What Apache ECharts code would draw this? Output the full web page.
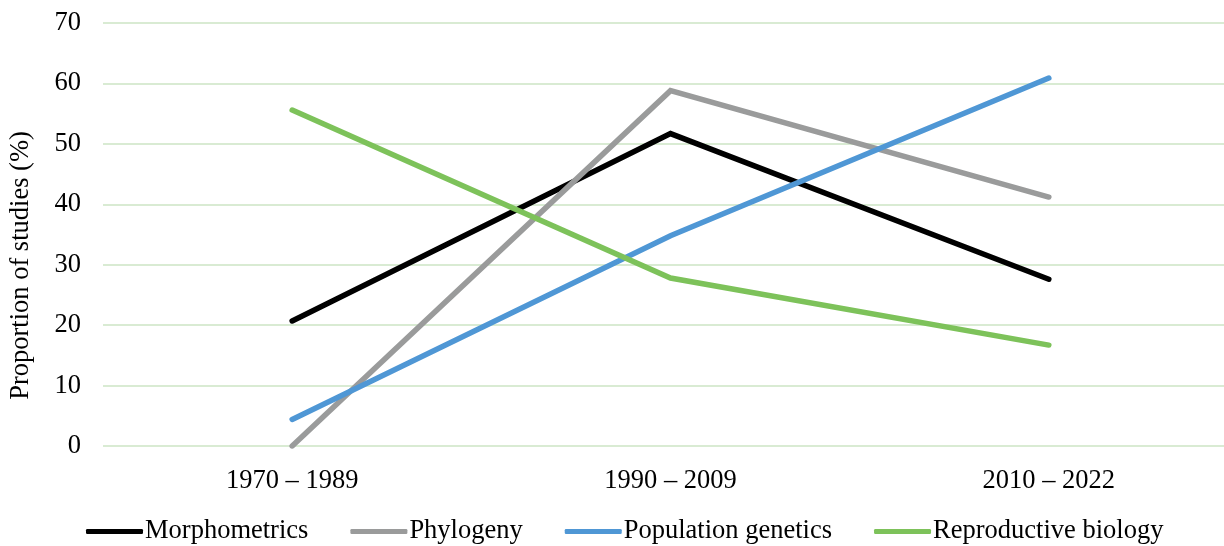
<!DOCTYPE html>
<html>
<head>
<meta charset="utf-8">
<script src="https://cdn.jsdelivr.net/npm/echarts@6/dist/echarts.min.js"></script>
<style>
html,body{margin:0;padding:0;background:#fff;overflow:hidden;width:1224px;height:546px;}
#chart{width:1238px;height:546px;}
</style>
</head>
<body>
<div id="chart"></div>
<script>
var categories = ['1970 – 1989', '1990 – 2009', '2010 – 2022'];
var morphometrics = [20.7, 51.7, 27.6];
var phylogeny = [0, 58.8, 41.2];
var populationGenetics = [4.4, 34.8, 60.9];
var reproductiveBiology = [55.6, 27.8, 16.7];
var seriesNames = ['Morphometrics', 'Phylogeny', 'Population genetics', 'Reproductive biology'];
var yAxisTitle = 'Proportion of studies (%)';

var colors = ['#000000', '#9a9b9b', '#4f97d5', '#7dc25a'];
var font = '"Liberation Serif", "Times New Roman", serif';
var dataSets = [morphometrics, phylogeny, populationGenetics, reproductiveBiology];

var chart = echarts.init(document.getElementById('chart'), null, {renderer: 'canvas'});
chart.setOption({
  animation: false,
  color: colors,
  grid: {left: 101, right: 0, top: 23, bottom: 100, containLabel: false},
  legend: {
    bottom: -4,
    left: 81,
    itemWidth: 57,
    itemHeight: 5,
    itemGap: 42,
    icon: 'roundRect',
    textStyle: {fontFamily: font, fontSize: 26.5, color: '#000', padding: [0, 0, 0, -3]},
    data: seriesNames
  },
  xAxis: {
    type: 'category',
    data: categories,
    boundaryGap: true,
    axisLine: {show: false},
    axisTick: {show: false},
    axisLabel: {fontFamily: font, fontSize: 26.5, color: '#000', margin: 22}
  },
  yAxis: {
    type: 'value',
    min: 0,
    max: 70,
    interval: 10,
    name: yAxisTitle,
    nameLocation: 'middle',
    nameGap: 68,
    nameTextStyle: {fontFamily: font, fontSize: 26.5, color: '#000', padding: [0, 62, 0, 0]},
    axisLine: {show: false},
    axisTick: {show: false},
    axisLabel: {fontFamily: font, fontSize: 26.5, color: '#000', margin: 22},
    splitLine: {lineStyle: {color: '#d9ebd3', width: 2}}
  },
  series: dataSets.map(function (d, i) {
    return {
      name: seriesNames[i],
      type: 'line',
      data: d,
      symbol: 'none',
      lineStyle: {width: 5.5, color: colors[i], cap: 'round', join: 'miter'},
      itemStyle: {color: colors[i]}
    };
  })
});
</script>
</body>
</html>
